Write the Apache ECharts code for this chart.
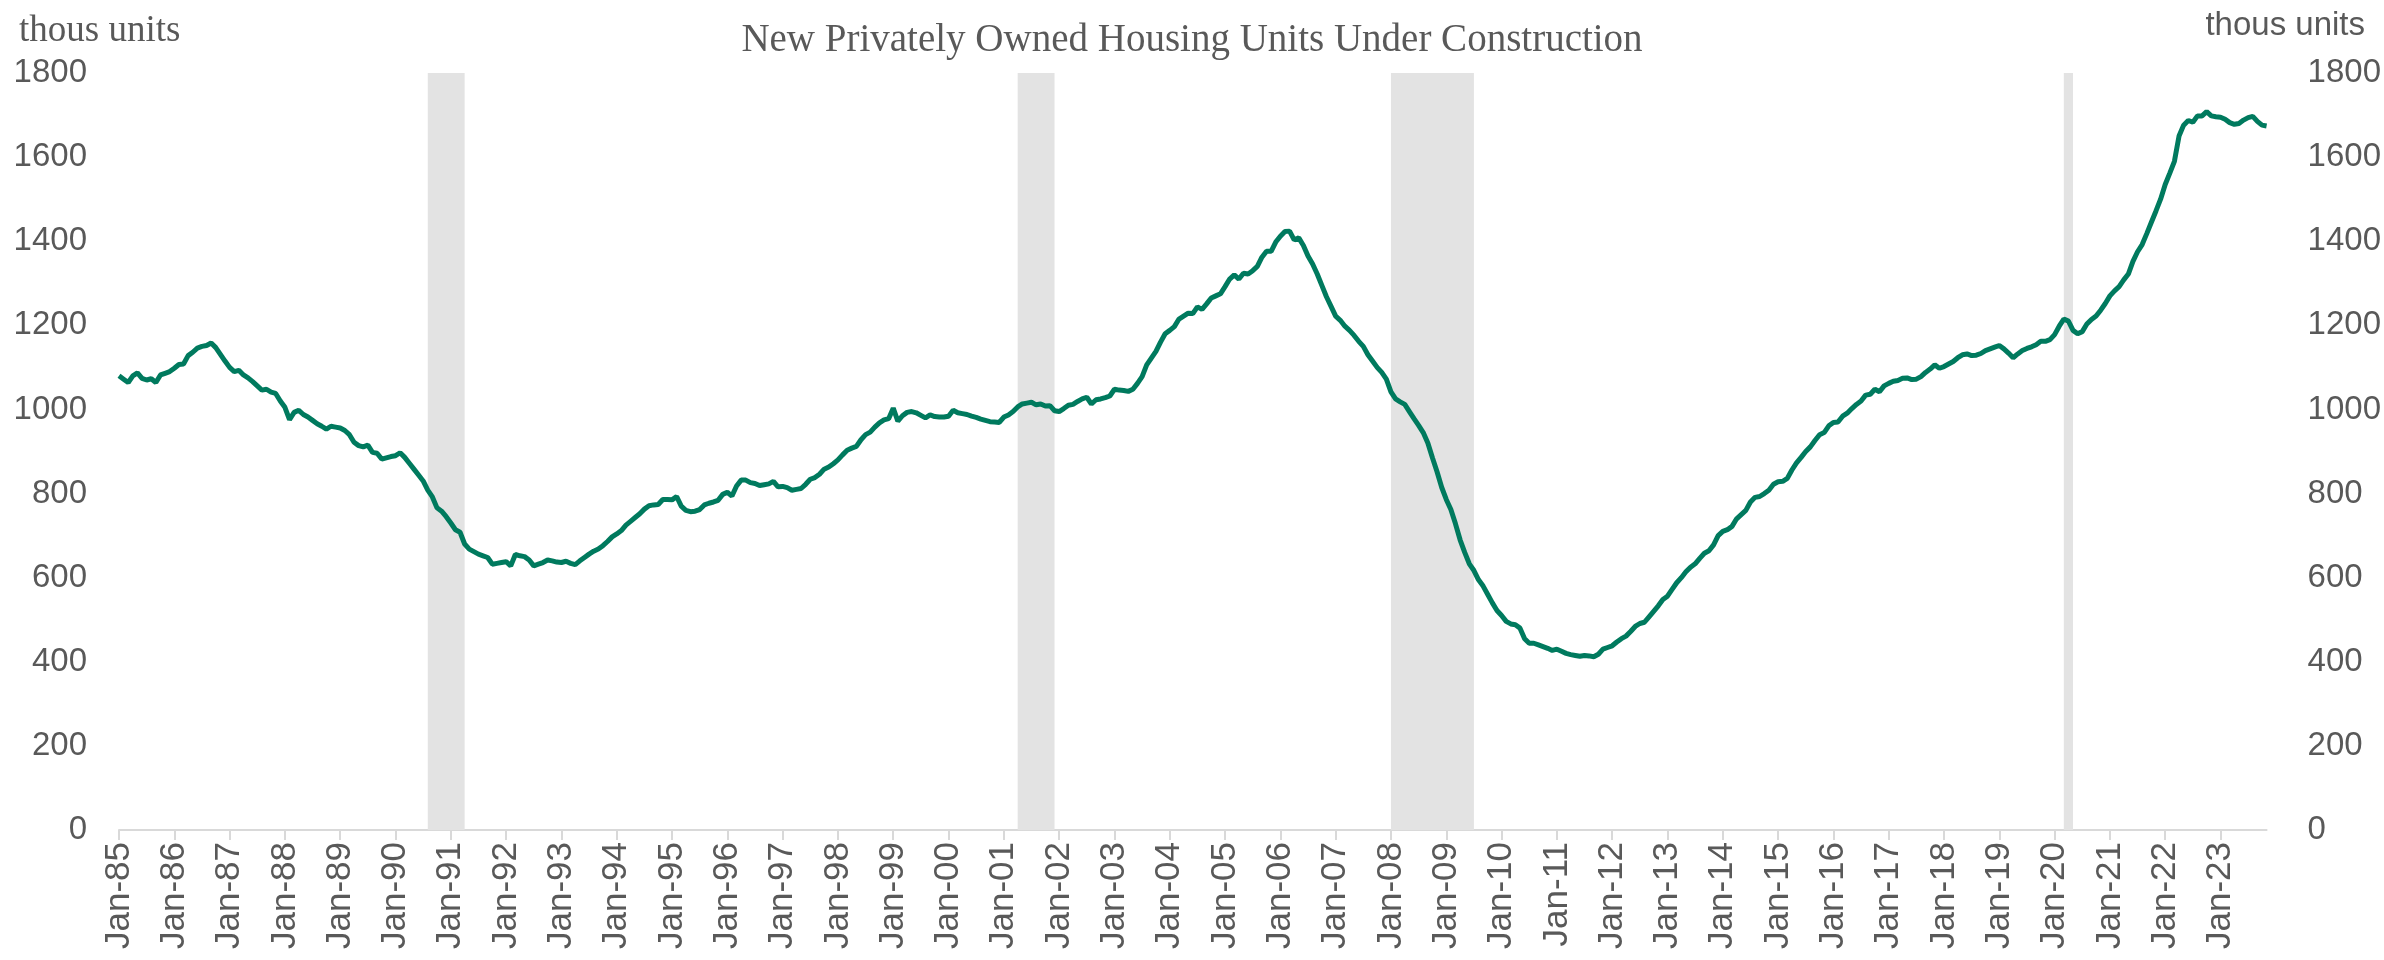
<!DOCTYPE html>
<html>
<head>
<meta charset="utf-8">
<title>New Privately Owned Housing Units Under Construction</title>
<script src="https://cdn.jsdelivr.net/npm/echarts@6/dist/echarts.min.js"></script>
<style>
html, body { margin: 0; padding: 0; background: #fff; }
#chart { width: 2384px; height: 960px; }
</style>
</head>
<body>
<div id="chart"></div>
<script>
// units under construction, thousands, monthly
const y1985 = [1080, 1072, 1064, 1080, 1087, 1074, 1070, 1073, 1064, 1082, 1086, 1090]
const y1986 = [1098, 1107, 1108, 1128, 1136, 1146, 1150, 1152, 1158, 1147, 1131, 1115]
const y1987 = [1100, 1090, 1093, 1082, 1075, 1066, 1056, 1046, 1048, 1041, 1038, 1020]
const y1988 = [1005, 976, 993, 998, 988, 982, 974, 966, 960, 953, 960, 958]
const y1989 = [956, 950, 940, 922, 914, 911, 915, 898, 896, 882, 885, 888]
const y1990 = [890, 897, 886, 872, 858, 844, 830, 808, 792, 766, 758, 745]
const y1991 = [730, 714, 708, 680, 668, 662, 656, 652, 648, 632, 634, 636]
const y1992 = [638, 628, 655, 652, 650, 642, 628, 632, 636, 642, 640, 637]
const y1993 = [636, 639, 634, 631, 640, 648, 656, 663, 668, 676, 686, 697]
const y1994 = [704, 712, 725, 734, 743, 752, 763, 771, 773, 774, 786, 786]
const y1995 = [785, 793, 770, 760, 757, 758, 762, 773, 777, 780, 784, 798]
const y1996 = [803, 794, 818, 832, 832, 826, 824, 819, 821, 823, 829, 816]
const y1997 = [817, 814, 808, 810, 812, 822, 834, 838, 846, 858, 863, 871]
const y1998 = [880, 892, 903, 908, 912, 928, 940, 946, 958, 968, 975, 978]
const y1999 = [1003, 972, 985, 993, 995, 992, 986, 980, 987, 983, 982, 982]
const y2000 = [984, 998, 992, 990, 988, 984, 981, 977, 974, 971, 970, 969]
const y2001 = [982, 987, 995, 1006, 1013, 1015, 1017, 1011, 1013, 1008, 1009, 997]
const y2002 = [995, 1002, 1010, 1012, 1019, 1025, 1029, 1013, 1023, 1025, 1028, 1032]
const y2003 = [1048, 1046, 1045, 1043, 1048, 1062, 1078, 1106, 1122, 1138, 1160, 1180]
const y2004 = [1188, 1197, 1215, 1222, 1229, 1228, 1244, 1238, 1251, 1265, 1270, 1275]
const y2005 = [1292, 1310, 1320, 1310, 1324, 1322, 1330, 1340, 1362, 1376, 1376, 1398]
const y2006 = [1412, 1423, 1424, 1403, 1408, 1390, 1365, 1346, 1322, 1295, 1268, 1245]
const y2007 = [1222, 1212, 1198, 1188, 1176, 1162, 1150, 1130, 1115, 1100, 1088, 1072]
const y2008 = [1042, 1025, 1018, 1012, 995, 978, 962, 945, 920, 885, 852, 815]
const y2009 = [786, 762, 728, 690, 660, 633, 617, 595, 580, 560, 540, 522]
const y2010 = [510, 496, 490, 488, 480, 455, 444, 444, 440, 436, 432, 427]
const y2011 = [430, 425, 420, 417, 415, 413, 415, 414, 412, 418, 430, 434]
const y2012 = [438, 447, 455, 461, 472, 484, 491, 494, 507, 520, 533, 548]
const y2013 = [556, 572, 588, 600, 614, 625, 633, 646, 658, 664, 678, 700]
const y2014 = [710, 714, 722, 740, 750, 760, 780, 791, 793, 800, 808, 822]
const y2015 = [828, 829, 836, 856, 873, 886, 900, 911, 926, 940, 945, 961]
const y2016 = [969, 970, 984, 991, 1002, 1012, 1020, 1034, 1036, 1048, 1042, 1056]
const y2017 = [1062, 1067, 1069, 1074, 1075, 1071, 1072, 1078, 1088, 1096, 1106, 1098]
const y2018 = [1102, 1108, 1114, 1123, 1130, 1132, 1128, 1129, 1133, 1140, 1144, 1148]
const y2019 = [1152, 1144, 1134, 1123, 1132, 1140, 1145, 1149, 1154, 1162, 1162, 1166]
const y2020 = [1178, 1198, 1215, 1210, 1188, 1180, 1185, 1203, 1214, 1222, 1236, 1252]
const y2021 = [1270, 1282, 1292, 1308, 1322, 1352, 1375, 1392, 1418, 1445, 1472, 1500]
const y2022 = [1535, 1562, 1590, 1650, 1676, 1687, 1683, 1698, 1698, 1708, 1698, 1696]
const y2023 = [1695, 1690, 1682, 1678, 1680, 1688, 1694, 1697, 1685, 1676, 1674]

// NBER recessions, shaded from first to last month
const recessions = [
    ['Aug-90', 'Apr-91'],
    ['Apr-01', 'Dec-01'],
    ['Jan-08', 'Jul-09'],
    ['Mar-20', 'May-20']
]

const yTicks = { min: 0, max: 1800, interval: 200 }

const units = [].concat(
    y1985, y1986, y1987, y1988, y1989, y1990, y1991, y1992, y1993, y1994,
    y1995, y1996, y1997, y1998, y1999, y2000, y2001, y2002, y2003, y2004,
    y2005, y2006, y2007, y2008, y2009, y2010, y2011, y2012, y2013, y2014,
    y2015, y2016, y2017, y2018, y2019, y2020, y2021, y2022, y2023
)

const monthNames = ['Jan', 'Feb', 'Mar', 'Apr', 'May', 'Jun', 'Jul', 'Aug', 'Sep', 'Oct', 'Nov', 'Dec']
let months = []
for (let i = 0; i < units.length; i++) {
    let yr = (1985 + Math.floor(i / 12)) % 100
    months.push(monthNames[i % 12] + '-' + String(yr).padStart(2, '0'))
}

const grey = '#595959'
const isJan = (index) => index % 12 === 0

let dom = echarts.init(document.getElementById('chart'), null, { renderer: 'canvas' })

let valueAxis = (side, margin) => ({
    type: 'value',
    position: side,
    min: yTicks.min,
    max: yTicks.max,
    interval: yTicks.interval,
    splitLine: { show: false },
    axisLine: { show: false },
    axisTick: { show: false },
    axisLabel: {
        color: grey,
        fontSize: 33,
        fontFamily: 'Liberation Sans, Arial, sans-serif',
        margin: margin,
        formatter: (v) => String(v)
    }
})

let option = {
    animation: false,
    backgroundColor: '#fff',
    title: [
        {
            text: 'New Privately Owned Housing Units Under Construction',
            left: 'center',
            top: 16,
            textStyle: {
                color: grey,
                fontFamily: 'Liberation Serif, Times New Roman, serif',
                fontWeight: 'normal',
                fontSize: 39
            }
        },
        {
            text: 'thous units',
            left: 14,
            top: 8,
            textStyle: {
                color: grey,
                fontFamily: 'Liberation Serif, Times New Roman, serif',
                fontWeight: 'normal',
                fontSize: 37
            }
        },
        {
            text: 'thous units',
            right: 14,
            top: 4,
            textStyle: {
                color: grey,
                fontFamily: 'Liberation Sans, Arial, sans-serif',
                fontWeight: 'normal',
                fontSize: 33
            }
        }
    ],
    grid: {
        left: 119,
        right: 117,
        top: 73,
        bottom: 130
    },
    xAxis: {
        type: 'category',
        boundaryGap: false,
        data: months,
        axisLine: { lineStyle: { color: '#D9D9D9', width: 2 } },
        axisTick: {
            interval: isJan,
            length: 10,
            lineStyle: { color: '#D9D9D9', width: 2 }
        },
        axisLabel: {
            interval: isJan,
            rotate: 90,
            color: grey,
            fontSize: 35,
            fontFamily: 'Liberation Sans, Arial, sans-serif',
            margin: 12
        },
        splitLine: { show: false }
    },
    yAxis: [valueAxis('left', 32), valueAxis('right', 41)],
    series: [
        {
            name: 'Units under construction',
            type: 'line',
            data: units,
            showSymbol: false,
            lineStyle: { color: '#007A5E', width: 5 },
            itemStyle: { color: '#007A5E' },
            markArea: {
                silent: true,
                itemStyle: { color: '#E3E3E3' },
                data: recessions.map(r => [{ xAxis: r[0] }, { xAxis: r[1] }])
            }
        }
    ]
}

dom.setOption(option)
</script>
</body>
</html>
